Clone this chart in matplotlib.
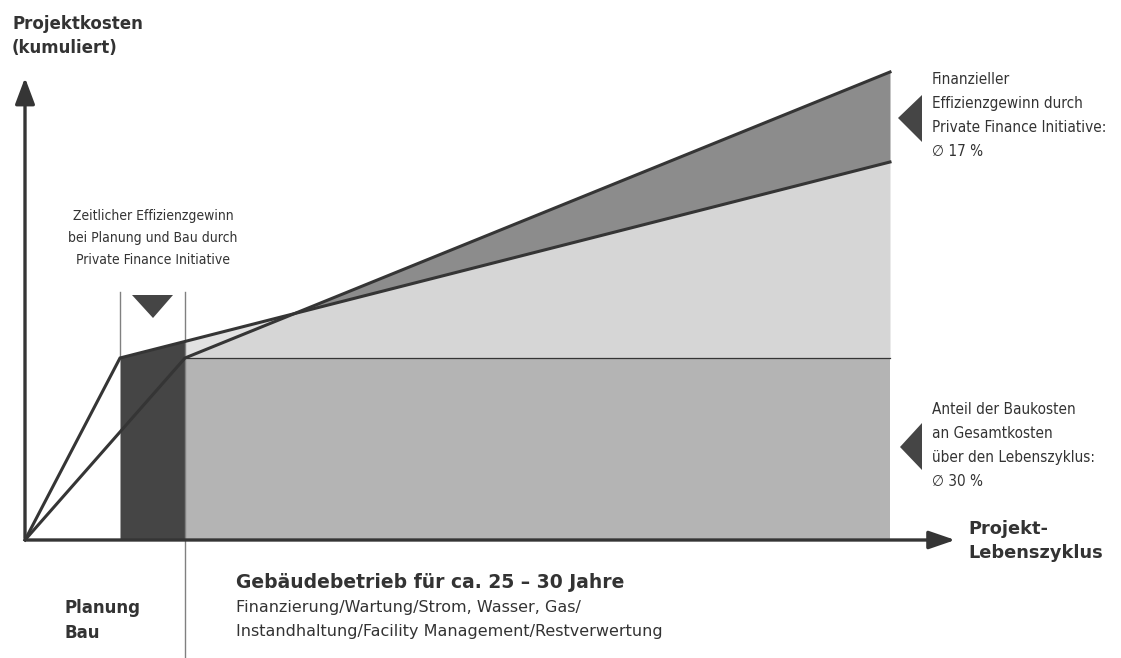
import numpy as np
import matplotlib.pyplot as plt
from matplotlib.patches import Polygon

# --- Daten (abstrakte Einheiten: Zeit nach rechts, kumulierte Kosten nach oben) ---
zeit_pfi = [0, 95, 865]          # Private Finance Initiative
kosten_pfi = [0, 182, 378]
zeit_konv = [0, 160, 865]        # konventionelle Realisierung
kosten_konv = [0, 182, 468]
baukosten = 182                  # Niveau der Baukosten
ende_planung_pfi = 95
ende_planung_konv = 160
ende_zyklus = 865

linie = '#353535'
dunkel = '#454545'
mittel = '#b4b4b4'
hell = '#d6d6d6'
heller = '#e2e2e2'
keil = '#8c8c8c'

fig = plt.figure(figsize=(11.21, 6.58), dpi=100)
ax = fig.add_axes([0, 0, 1, 1])
ax.set_xlim(-25, 1096)
ax.set_ylim(-118, 540)
ax.axis('off')

# Flaechen
x = np.linspace(ende_planung_konv, ende_zyklus, 400)
y_pfi = np.interp(x, zeit_pfi, kosten_pfi)
y_konv = np.interp(x, zeit_konv, kosten_konv)

ax.fill_between([ende_planung_konv, ende_zyklus], 0, baukosten, color=mittel, lw=0, zorder=1)
ax.fill_between(x, baukosten, np.minimum(y_pfi, y_konv), color=hell, lw=0, zorder=1)
ax.fill_between(x, y_konv, y_pfi, where=y_pfi >= y_konv, color=heller, lw=0, zorder=1)
ax.fill_between(x, y_pfi, y_konv, where=y_konv >= y_pfi, color=keil, lw=0, zorder=1)

xd = np.linspace(ende_planung_pfi, ende_planung_konv, 50)
ax.fill_between(xd, 0, np.interp(xd, zeit_pfi, kosten_pfi), color=dunkel, lw=0, zorder=2)

# Linie Baukosten
ax.plot([ende_planung_konv, ende_zyklus], [baukosten, baukosten], color=linie, lw=0.9, zorder=3)

# Kostenkurven
ax.plot(zeit_pfi, kosten_pfi, color=linie, lw=2.2, zorder=4, solid_joinstyle='miter')
ax.plot(zeit_konv, kosten_konv, color=linie, lw=2.2, zorder=4, solid_joinstyle='miter')

# Klammer fuer zeitlichen Effizienzgewinn
ax.plot([ende_planung_pfi, ende_planung_pfi], [baukosten, 248], color='#808080', lw=1, zorder=3)
ax.plot([ende_planung_konv, ende_planung_konv], [-118, 248], color='#808080', lw=1, zorder=3)
ax.add_patch(Polygon([[107, 245], [148, 245], [128, 222]], closed=True, color=dunkel, lw=0, zorder=4))

# Pfeile rechts
ax.add_patch(Polygon([[897, 445], [897, 398], [873, 422]], closed=True, color=dunkel, lw=0))
ax.add_patch(Polygon([[897, 117], [897, 70], [875, 93]], closed=True, color=dunkel, lw=0))

# Achsen
ax.annotate('', xy=(0, 465), xytext=(0, -1),
            arrowprops=dict(arrowstyle='-|>,head_length=1.6,head_width=0.6', color=linie, lw=2.4))
ax.annotate('', xy=(933, 0), xytext=(-1.5, 0),
            arrowprops=dict(arrowstyle='-|>,head_length=1.6,head_width=0.55', color=linie, lw=2.4),
            zorder=5)

# Beschriftungen
ax.text(-13, 525, 'Projektkosten\n(kumuliert)', fontsize=12, fontweight='bold', color='#333333',
        va='top', ha='left', linespacing=1.45)
ax.text(128, 331, 'Zeitlicher Effizienzgewinn\nbei Planung und Bau durch\nPrivate Finance Initiative',
        fontsize=10, fontstretch='condensed', color='#333333', va='top', ha='center', linespacing=1.75)
ax.text(907, 468, 'Finanzieller\nEffizienzgewinn durch\nPrivate Finance Initiative:\n\u2205 17 %',
        fontsize=11, fontstretch='condensed', color='#333333', va='top', ha='left', linespacing=1.75)
ax.text(907, 138, 'Anteil der Baukosten\nan Gesamtkosten\nüber den Lebenszyklus:\n\u2205 30 %',
        fontsize=11, fontstretch='condensed', color='#333333', va='top', ha='left', linespacing=1.75)
ax.text(943, 20, 'Projekt-\nLebenszyklus', fontsize=12.8, fontweight='bold', color='#333333',
        va='top', ha='left', linespacing=1.45)
ax.text(40, -59, 'Planung\nBau', fontsize=12, fontweight='bold', color='#333333',
        va='top', ha='left', linespacing=1.5)
ax.text(211, -33, 'Gebäudebetrieb für ca. 25 – 30 Jahre', fontsize=13.5, fontweight='bold',
        color='#333333', va='top', ha='left')
ax.text(211, -60, 'Finanzierung/Wartung/Strom, Wasser, Gas/\nInstandhaltung/Facility Management/Restverwertung',
        fontsize=11.5, color='#333333', va='top', ha='left', linespacing=1.78)

plt.savefig('out.png', dpi=100)
plt.close()
